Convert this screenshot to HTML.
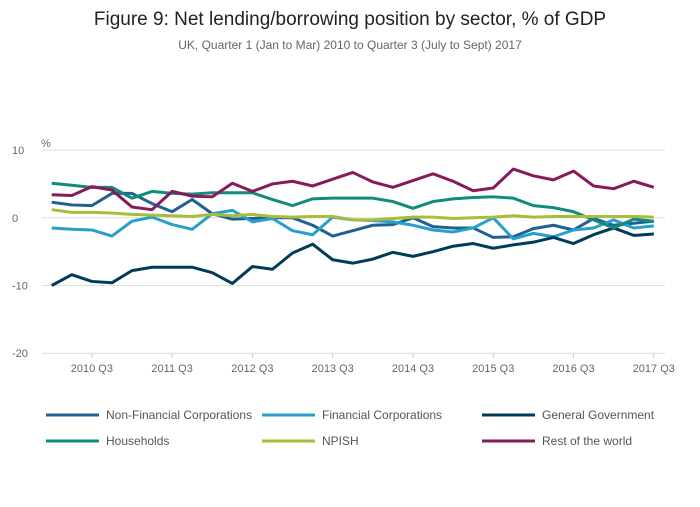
<!DOCTYPE html>
<html><head><meta charset="utf-8">
<style>
body{margin:0;background:#fff;font-family:"Liberation Sans",sans-serif;}
svg text{font-family:"Liberation Sans",sans-serif;}
</style></head>
<body>
<svg id="chart" width="700" height="502" xmlns="http://www.w3.org/2000/svg">
<text x="350" y="25" text-anchor="middle" font-size="19" fill="#222">Figure 9: Net lending/borrowing position by sector, % of GDP</text>
<text x="350" y="49" text-anchor="middle" font-size="12" fill="#666">UK, Quarter 1 (Jan to Mar) 2010 to Quarter 3 (July to Sept) 2017</text>
<text x="41" y="147" font-size="11" fill="#666">%</text>
<g id="grid"></g><g id="series"></g><g id="legend"></g>
</svg>
<script>
const yTicks=[10,0,-10,-20];
const xLabels=["2010 Q3","2011 Q3","2012 Q3","2013 Q3","2014 Q3","2015 Q3","2016 Q3","2017 Q3"];
const names=["Non-Financial Corporations","Financial Corporations","General Government","Households","NPISH","Rest of the world"];
const colors=["#206095","#27a0cc","#003c57","#118c7b","#a8bd3a","#871a5b"];
const nfc=[2.3,1.9,1.8,3.6,3.6,2.1,0.9,2.7,0.6,-0.2,-0.1,0,0,-1.1,-2.7,-1.9,-1.1,-1.0,0,-1.3,-1.5,-1.5,-2.9,-2.8,-1.6,-1.1,-1.8,-0.1,-1.1,-0.8,-0.5];
const fc=[-1.5,-1.7,-1.8,-2.7,-0.5,0.1,-1.0,-1.7,0.6,1.1,-0.6,-0.1,-1.9,-2.5,0.1,-0.3,-0.4,-0.6,-1.1,-1.8,-2.1,-1.5,0,-3.1,-2.3,-2.8,-1.8,-1.5,-0.3,-1.5,-1.2];
const gg=[-10.0,-8.4,-9.4,-9.6,-7.8,-7.3,-7.3,-7.3,-8.1,-9.7,-7.2,-7.6,-5.2,-3.9,-6.2,-6.7,-6.1,-5.1,-5.7,-5.0,-4.2,-3.8,-4.5,-4.0,-3.6,-2.9,-3.8,-2.5,-1.5,-2.6,-2.4];
const hh=[5.1,4.8,4.5,4.5,2.9,3.9,3.6,3.5,3.7,3.7,3.7,2.7,1.8,2.8,2.9,2.9,2.9,2.4,1.4,2.4,2.8,3.0,3.1,2.9,1.8,1.5,0.9,-0.3,-1.5,-0.2,-0.5];
const npish=[1.2,0.8,0.8,0.7,0.5,0.4,0.3,0.2,0.5,0.3,0.5,0.2,0.1,0.2,0.2,-0.3,-0.3,-0.1,0.1,0.1,-0.1,0,0.1,0.3,0.1,0.2,0.2,0.2,0.2,0.2,0.1];
const row=[3.4,3.3,4.6,4.1,1.6,1.2,3.9,3.2,3.1,5.1,3.9,5.0,5.4,4.7,5.7,6.7,5.3,4.5,5.5,6.5,5.4,4.0,4.4,7.2,6.2,5.6,6.9,4.7,4.3,5.4,4.5];
const data=[nfc,fc,gg,hh,npish,row];
const NS="http://www.w3.org/2000/svg";
const x0=42,x1=665;
const xs=i=>51.7+i*20.07;
const ys=v=>217.8-v*6.77;
function mk(t,a,p){const e=document.createElementNS(NS,t);for(const k in a)e.setAttribute(k,a[k]);p.appendChild(e);return e;}
const grid=document.getElementById('grid');
yTicks.forEach(t=>{
 const l=mk('line',{x1:x0,x2:x1,y1:ys(t),y2:ys(t),stroke:'#ddd','stroke-width':1},grid);
 
 
 const tx=mk('text',{x:12,y:ys(t)+4,'font-size':11,fill:'#666'},grid);tx.textContent=t;
 
 
});
xLabels.forEach((s,i)=>{
 const px=xs(2+i*4);
 const tk=mk('line',{x1:px,x2:px,y1:353,y2:358,stroke:'#ccc'},grid);
 
 
 const tx=mk('text',{x:px,y:372,'font-size':11,fill:'#666','text-anchor':'middle'},grid);tx.textContent=s;
 
 
});
const sg=document.getElementById('series');
data.forEach((d,k)=>{
 const p=mk('polyline',{points:d.map((v,i)=>xs(i)+','+ys(v)).join(' '),fill:'none',stroke:colors[k],'stroke-width':3,'stroke-linejoin':'round'},sg);
 
 
});
const lg=document.getElementById('legend');
const lx=[46,262,482],lyy=[415,441];
names.forEach((n,k)=>{
 const x=lx[k%3],y=lyy[Math.floor(k/3)];
 const g=mk('g',{},lg);
 
 
 mk('line',{x1:x,x2:x+53,y1:y,y2:y,stroke:colors[k],'stroke-width':3},g);
 const t=mk('text',{x:x+60,y:y+4,'font-size':12,fill:'#555'},g);t.textContent=n;
});
</script>
</body></html>
